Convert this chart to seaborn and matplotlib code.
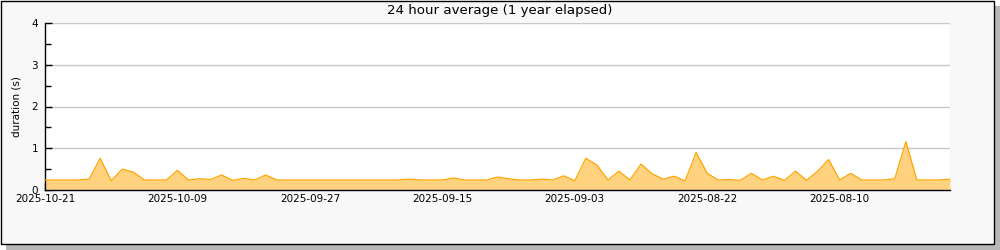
import numpy as np
import pandas as pd
import matplotlib
matplotlib.use("Agg")
import matplotlib.pyplot as plt
import matplotlib.dates as mdates
from matplotlib.patches import Rectangle
from matplotlib.ticker import MultipleLocator
import seaborn as sns

# ---- data ----
start_date = "2025-10-21"
durations = [
    0.24, 0.24, 0.24, 0.24, 0.26, 0.76, 0.22, 0.50, 0.43, 0.24,
    0.24, 0.24, 0.47, 0.24, 0.27, 0.25, 0.36, 0.23, 0.28, 0.24,
    0.36, 0.24,
    0.24, 0.24, 0.24, 0.24, 0.24, 0.24, 0.24, 0.24, 0.24, 0.24, 0.24,
    0.26, 0.24, 0.24, 0.24, 0.29, 0.24, 0.24, 0.24, 0.31, 0.27,
    0.24, 0.24, 0.26, 0.24, 0.34, 0.22, 0.76, 0.60, 0.24, 0.45,
    0.24, 0.62, 0.39, 0.26, 0.33, 0.22, 0.90, 0.40, 0.24, 0.25,
    0.23, 0.40, 0.24, 0.33, 0.23, 0.45, 0.23, 0.45, 0.73, 0.24,
    0.40, 0.24, 0.24, 0.24, 0.27, 1.16, 0.24, 0.24, 0.24, 0.26,
]
dates = pd.date_range(start=start_date, periods=len(durations), freq="-1D")
title = "24 hour average (1 year elapsed)"
ylabel = "duration (s)"
yticks = [0, 1, 2, 3, 4]

df = pd.DataFrame({"date": dates, "duration": durations})

sns.set_theme(style="white")
plt.rcParams["font.family"] = ["DejaVu Sans"]
plt.rcParams["text.color"] = "black"
plt.rcParams["axes.labelcolor"] = "black"
plt.rcParams["xtick.color"] = "black"
plt.rcParams["ytick.color"] = "black"

fig = plt.figure(figsize=(10, 2.5), dpi=100)
fig.patch.set_facecolor("white")

# shadow + frame
fig.patches.append(Rectangle((0.006, 0.0), 0.994, 0.976, transform=fig.transFigure,
                             facecolor="#b8b8b8", edgecolor="none", zorder=-3))
fig.patches.append(Rectangle((0.0005, 0.026), 0.9935, 0.972, transform=fig.transFigure,
                             facecolor="#f8f8f8", edgecolor="black", linewidth=1.0, zorder=-2))

ax = fig.add_axes([0.045, 0.24, 0.905, 0.668])
ax.set_facecolor("white")

fill_color = "#ffd280"
line_color = "#ffa500"
ax.fill_between(df["date"], 0, df["duration"], color=fill_color, linewidth=0, zorder=2)
sns.lineplot(data=df, x="date", y="duration", ax=ax, color=line_color, linewidth=0.9, zorder=3)

ax.set_xlim(dates[0], dates[-1])
ax.set_ylim(0, 4)

# ticks
ax.yaxis.set_minor_locator(MultipleLocator(0.5))
ax.set_yticks(yticks)
ax.grid(axis="y", which="major", color="#c8c8c8", linewidth=1.0, zorder=1)
ax.set_axisbelow(True)

major_dates = dates[::12]
minor_dates = dates[6::12]
ax.set_xticks(major_dates)
ax.set_xticks(minor_dates, minor=True)
ax.xaxis.set_major_formatter(mdates.DateFormatter("%Y-%m-%d"))

ax.tick_params(axis="both", which="both", direction="in", color="black", width=1.0)
ax.tick_params(axis="x", which="both", length=5, labelsize=7.5, pad=3, bottom=True)
ax.tick_params(axis="y", which="major", length=5, labelsize=7.5, pad=5, left=True)
ax.tick_params(axis="y", which="minor", length=4, left=True)

for s in ["top", "right"]:
    ax.spines[s].set_visible(False)
for s in ["left", "bottom"]:
    ax.spines[s].set_color("black")
    ax.spines[s].set_linewidth(1.0)

ax.set_xlabel("")
ax.set_ylabel(ylabel, fontsize=7.5, labelpad=7)

fig.text(0.4995, 0.958, title, ha="center", va="center", fontsize=9.6, color="black")

fig.savefig("out.png", dpi=100, facecolor=fig.get_facecolor())
